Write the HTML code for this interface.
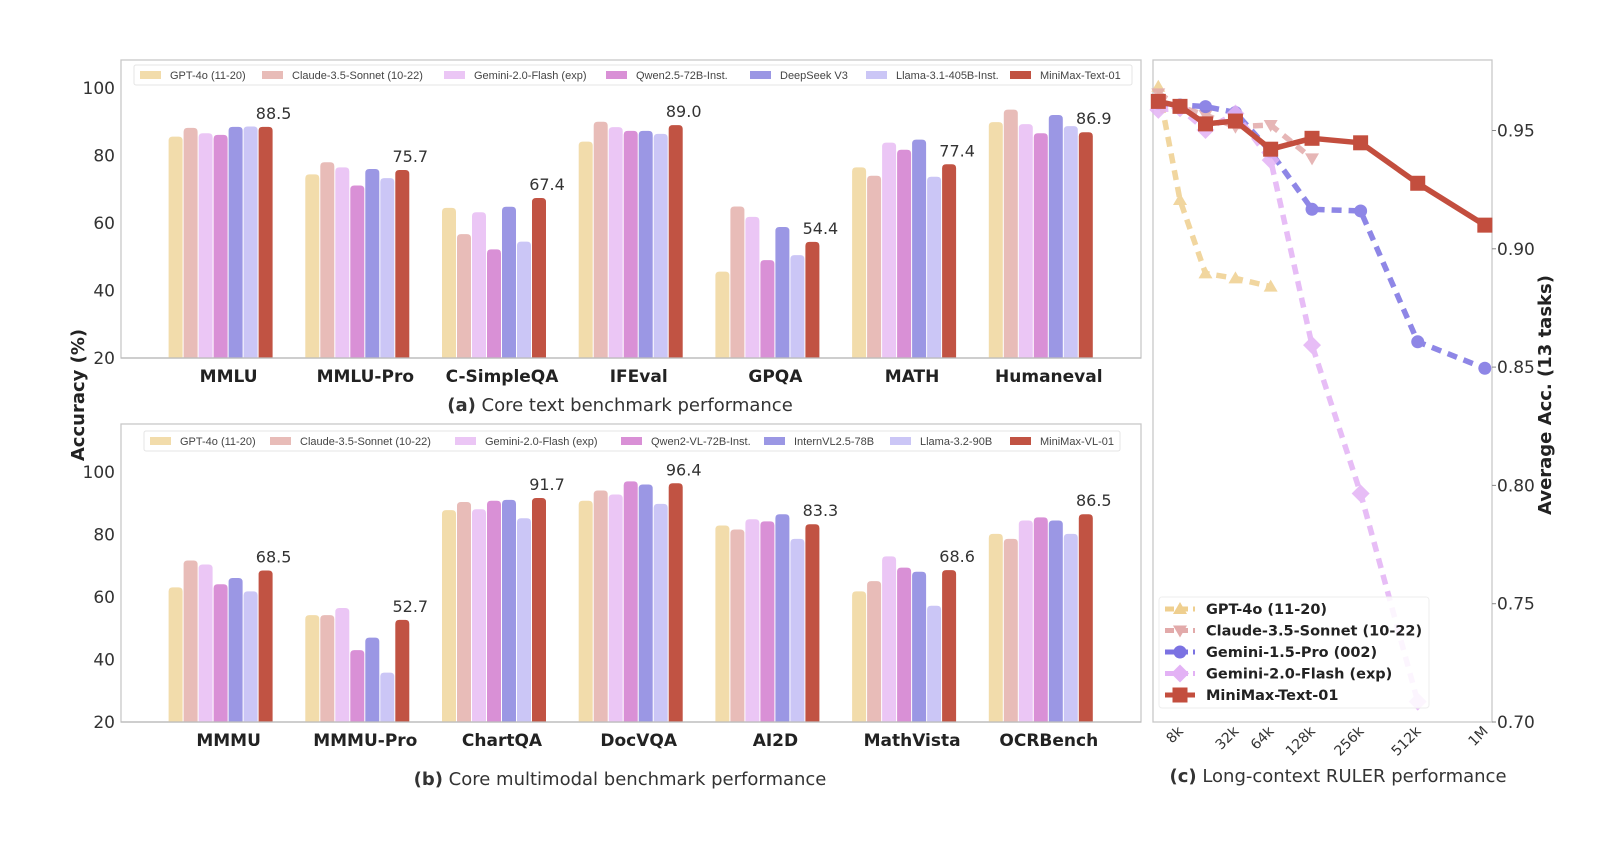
<!DOCTYPE html>
<html><head><meta charset="utf-8"><style>
html,body{margin:0;padding:0;background:#fff;}
svg{display:block;font-family:"DejaVu Sans","Liberation Sans",sans-serif;}
</style></head><body>
<svg id="fig" width="1620" height="846" viewBox="0 0 1620 846" xmlns="http://www.w3.org/2000/svg"></svg>
<script>
const seriesA = ["GPT-4o (11-20)","Claude-3.5-Sonnet (10-22)","Gemini-2.0-Flash (exp)","Qwen2.5-72B-Inst.","DeepSeek V3","Llama-3.1-405B-Inst.","MiniMax-Text-01"];
const seriesB = ["GPT-4o (11-20)","Claude-3.5-Sonnet (10-22)","Gemini-2.0-Flash (exp)","Qwen2-VL-72B-Inst.","InternVL2.5-78B","Llama-3.2-90B","MiniMax-VL-01"];
const barColors = ["#f2dcab","#e8bcb8","#ebc6f5","#d990d6","#9b97e4","#cbc6f6","#c15343"];
const catsA = ["MMLU","MMLU-Pro","C-SimpleQA","IFEval","GPQA","MATH","Humaneval"];
const catsB = ["MMMU","MMMU-Pro","ChartQA","DocVQA","AI2D","MathVista","OCRBench"];
// values per benchmark: [gpt, claude, gemini, qwen, deepseek/internvl, llama, minimax]
const valsA = [
 [85.6,88.2,86.6,86.1,88.5,88.6,88.5],
 [74.4,78.0,76.5,71.1,76.0,73.3,75.7],
 [64.5,56.7,63.2,52.2,64.8,54.5,67.4],
 [84.1,90.0,88.4,87.3,87.3,86.4,89.0],
 [45.6,64.9,61.8,49.0,58.8,50.5,54.4],
 [76.5,74.0,83.8,81.7,84.7,73.7,77.4],
 [89.9,93.6,89.3,86.6,92.0,88.7,86.9]
];
const valsB = [
 [63.1,71.7,70.4,64.1,66.1,61.8,68.5],
 [54.2,54.2,56.5,43.0,47.0,35.8,52.7],
 [87.8,90.4,88.1,90.8,91.1,85.2,91.7],
 [90.8,94.1,92.8,97.0,96.0,89.8,96.4],
 [82.9,81.6,84.9,84.2,86.5,78.6,83.3],
 [61.8,65.1,73.0,69.4,68.1,57.2,68.6],
 [80.2,78.6,84.5,85.5,84.5,80.2,86.5]
];
const yTicks = [20,40,60,80,100];
// RULER chart
const ctxLabels = ["4k","8k","16k","32k","64k","128k","256k","512k","1M"];
const ctxTickShown = [false,true,false,true,true,true,true,true,true];
const rulerNames = ["GPT-4o (11-20)","Claude-3.5-Sonnet (10-22)","Gemini-1.5-Pro (002)","Gemini-2.0-Flash (exp)","MiniMax-Text-01"];
const rulerGPT = [0.9685,0.9206,0.8896,0.8875,0.8840];
const rulerClaude = [0.9657,0.9600,0.9565,0.9516,0.9523,0.9382];
const rulerGem15 = [0.9615,0.9608,0.9601,0.9576,0.9410,0.9167,0.9160,0.8607,0.8495];
const rulerFlash = [0.9587,0.9594,0.9502,0.9572,0.9375,0.8593,0.7966,0.7086];
const rulerMiniMax = [0.9623,0.9602,0.9528,0.9540,0.9421,0.9467,0.9448,0.9277,0.9100];
const rulerTicks = [0.70,0.75,0.80,0.85,0.90,0.95];

const NS="http://www.w3.org/2000/svg";
const svg=document.getElementById('fig');
function mk(tag,attrs,parent,text){const e=document.createElementNS(NS,tag);for(const k in attrs)e.setAttribute(k,attrs[k]);if(text!==undefined)e.textContent=text;(parent||svg).appendChild(e);return e;}

function barPanel(cats,vals,series,frame,yAxis,legendY,legendXs,legendBox,caption,capY,nameSuffix){
  const g=mk('g',{});
  
  
  const y=v=>yAxis.y20-(v-20)*(yAxis.y20-yAxis.y100)/80;
  const fr=mk('rect',{x:frame.l,y:frame.t,width:frame.r-frame.l,height:yAxis.y20-frame.t,fill:'none',stroke:'#c8c8c8','stroke-width':1.3},g);
  
  
  yTicks.forEach(t=>{
    const tx=mk('text',{x:frame.l-6,y:y(t)+6,'text-anchor':'end','font-size':17,fill:'#333'},g,String(t));
    
    
  });
  const gx=i=>220.6+i*136.7;
  const step=15,bw=14;
  cats.forEach((c,i)=>{
    vals[i].forEach((v,j)=>{
      const x=gx(i)+(j-3)*step-bw/2;
      const top=y(v),bot=yAxis.y20;
      const p=mk('path',{d:`M${x},${bot} L${x},${top+4} Q${x},${top} ${x+4},${top} L${x+bw-4},${top} Q${x+bw},${top} ${x+bw},${top+4} L${x+bw},${bot} Z`,fill:barColors[j]},g);
      
      
      if(j===6){
        const t=mk('text',{x:x+bw/2+8,y:top-8,'text-anchor':'middle','font-size':16,fill:'#333'},g,v.toFixed(1));
        
        
      }
    });
    const lab=mk('text',{x:gx(i)+8,y:yAxis.y20+24,'text-anchor':'middle','font-size':17,'font-weight':'bold',fill:'#222'},g,c);
    
    
  });
  mk('line',{x1:frame.l,x2:frame.r,y1:yAxis.y20,y2:yAxis.y20,stroke:'#bbb','stroke-width':1.3},g);
  // legend
  const lb=mk('rect',{x:legendBox[0],y:legendY-10,width:legendBox[1]-legendBox[0],height:20,fill:'#fff',stroke:'#e4e4e4',rx:2},g);
  
  
  series.forEach((s,j)=>{
    const lx=legendXs[j];
    const sw=mk('rect',{x:lx,y:legendY-4,width:21,height:8,fill:barColors[j]},g);
    
    
    const t=mk('text',{x:lx+30,y:legendY+4,'font-size':11,'font-family':'Liberation Sans, sans-serif',fill:'#444'},g,s);
    
    
  });
  const cp=mk('text',{x:620,y:capY,'text-anchor':'middle','font-size':18,fill:'#333'},g);
  mk('tspan',{'font-weight':'bold'},cp,caption[0]);
  mk('tspan',{},cp,caption[1]);
  
  
}
barPanel(catsA,valsA,seriesA,{l:121,r:1141,t:60},{y20:358,y100:88},75,[140,262,444,606,750,866,1010],[134,1132],["(a)"," Core text benchmark performance"],411,'a');
barPanel(catsB,valsB,seriesB,{l:121,r:1141,t:424},{y20:722,y100:472},441,[150,270,455,621,764,890,1010],[144,1120],["(b)"," Core multimodal benchmark performance"],785,'b');

const al=mk('text',{x:0,y:0,transform:'translate(84,395) rotate(-90)','text-anchor':'middle','font-size':18,'font-weight':'bold',fill:'#222'},svg,'Accuracy (%)');



// RULER panel
(function(){
  const g=mk('g',{});
  
  
  const L=1153,R=1492,T=60,B=722;
  const yv=v=>722-(v-0.70)*2366;
  const r=1.175,s=21.7;
  const xi=i=>1158.3+s*(Math.pow(r,i)-1)/(r-1);
  mk('rect',{x:L,y:T,width:R-L,height:B-T,fill:'none',stroke:'#c8c8c8','stroke-width':1.3},g);
  rulerTicks.forEach(t=>{
    mk('line',{x1:R,x2:R+4,y1:yv(t),y2:yv(t),stroke:'#888'},g);
    const tx=mk('text',{x:R+5,y:yv(t)+6,'font-size':17,fill:'#333'},g,t.toFixed(2));
    
    
  });
  ctxLabels.forEach((c,i)=>{
    if(!ctxTickShown[i])return;
    const t=mk('text',{x:0,y:0,transform:`translate(${xi(i)+4},${B+10}) rotate(-45)`,'text-anchor':'end','font-size':14,fill:'#333'},g,c);
    
    
  });
  const yl=mk('text',{x:0,y:0,transform:'translate(1551,395) rotate(-90)','text-anchor':'middle','font-size':18,'font-weight':'bold',fill:'#222'},g,'Average Acc. (13 tasks)');
  
  
  function marker(kind,x,y,col,parent){
    if(kind==='up')return mk('path',{d:`M${x},${y-7} L${x+7},${y+5} L${x-7},${y+5} Z`,fill:col},parent);
    if(kind==='down')return mk('path',{d:`M${x},${y+7} L${x+7},${y-5} L${x-7},${y-5} Z`,fill:col},parent);
    if(kind==='circle')return mk('circle',{cx:x,cy:y,r:6.5,fill:col},parent);
    if(kind==='diamond')return mk('path',{d:`M${x},${y-9} L${x+9},${y} L${x},${y+9} L${x-9},${y} Z`,fill:col},parent);
    return mk('rect',{x:x-7.5,y:y-7.5,width:15,height:15,fill:col},parent);
  }
  const defs=[
    [rulerGPT,'#efcf8f','up',true,'line-gpt4o'],
    [rulerClaude,'#e2aaaa','down',true,'line-claude'],
    [rulerGem15,'#7b72e2','circle',true,'line-gemini15'],
    [rulerFlash,'#e3b2f5','diamond',true,'line-gemini-flash'],
    [rulerMiniMax,'#c34e3e','square',false,'line-minimax']
  ];
  defs.forEach(([vals,col,kind,dash,name])=>{
    const sg=mk('g',{opacity:dash?0.85:1},g);
    const pts=vals.map((v,i)=>xi(i)+','+yv(v)).join(' ');
    const pl=mk('polyline',{points:pts,fill:'none',stroke:col,'stroke-width':5.5,'stroke-dasharray':dash?'10 7':'none','stroke-linejoin':'round'},sg);
    
    
    vals.forEach((v,i)=>{
      const m=marker(kind,xi(i),yv(v),col,sg);
      
      
    });
  });
  const lb=mk('rect',{x:1159,y:597,width:270,height:111,fill:'#fff','fill-opacity':0.85,stroke:'#eee',rx:3},g);
  
  
  defs.forEach(([vals,col,kind,dash,name],k)=>{
    const yy=609+k*21.5;
    mk('line',{x1:1165,x2:1195,y1:yy,y2:yy,stroke:col,'stroke-width':5,'stroke-dasharray':dash?'9 5':'none'},g);
    marker(kind,1180,yy,col,g);
    const t=mk('text',{x:1206,y:yy+5,'font-size':14.5,'font-weight':'bold',fill:'#222'},g,rulerNames[k]);
    
    
  });
  const cp=mk('text',{x:1338,y:782,'text-anchor':'middle','font-size':18,fill:'#333'},g);
  mk('tspan',{'font-weight':'bold'},cp,'(c)');
  mk('tspan',{},cp,' Long-context RULER performance');
  
  
})();
</script>
</body></html>
